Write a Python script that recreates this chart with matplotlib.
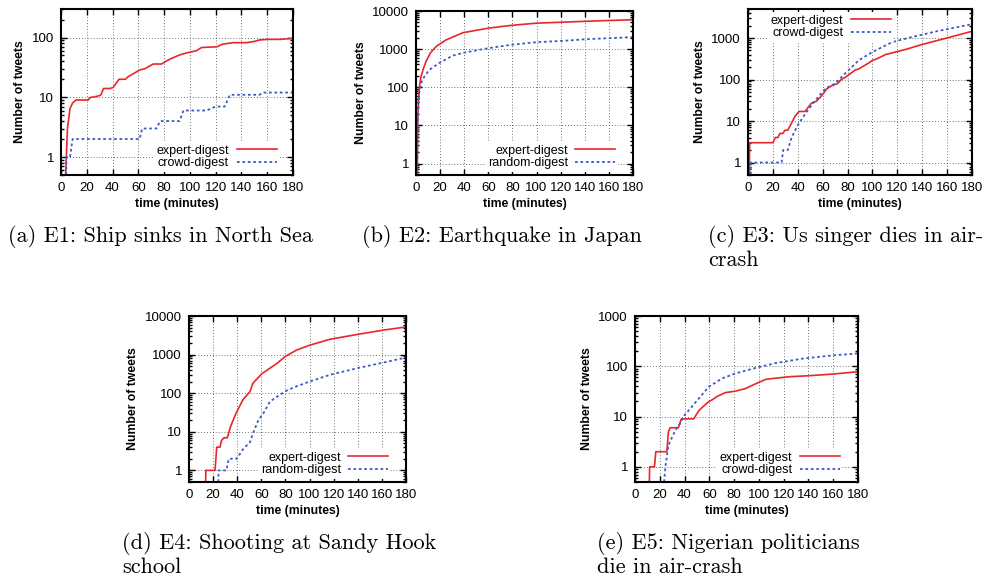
import matplotlib.pyplot as plt
from matplotlib.ticker import FixedLocator, LogLocator, NullFormatter

plt.rcParams['font.family'] = ['Liberation Sans', 'DejaVu Sans']
plt.rcParams['font.size'] = 8

RED = '#e8262b'
BLUE = '#3d5bc0'

# (a) E1
a_t_exp = [3.6, 5, 7, 9, 11.6, 21, 23, 24, 29, 31, 33, 38, 40.5, 45, 50, 52, 55, 61, 65, 71.5, 78, 81, 85, 92,
           97, 105, 109, 121, 125, 133.5, 144, 150, 154, 160, 170, 175, 180]
a_v_exp = [0.5, 3, 6.5, 8, 9, 9, 10, 10, 10.5, 11, 14, 14, 14.6, 20, 20, 22, 24, 28.6, 30, 36, 36, 39.5, 44, 51,
           55, 60, 68, 70, 77, 82, 82, 86, 91, 93, 93, 95, 97]
a_t_crd = [4, 4.2, 7, 9, 61, 63, 74, 77, 92, 95, 113, 120, 127, 131, 154, 157, 180]
a_v_crd = [0.5, 1, 1, 2, 2, 3, 3, 4, 4, 6, 6, 7, 7, 11, 11, 12, 12]

# (b) E2
b_t_exp = [1, 1.4, 2, 2.8, 4, 6, 8.3, 12, 16.7, 25, 39, 60, 79, 100, 122, 150, 180]
b_v_exp = [0.5, 10, 40, 100, 183, 300, 475, 800, 1170, 1750, 2700, 3550, 4200, 4800, 5100, 5500, 5900]
b_t_rnd = [1, 1.4, 2, 2.8, 5, 8.3, 12, 19.4, 30.5, 39, 60, 79, 100, 122, 142, 180]
b_v_rnd = [0.5, 10, 40, 74, 150, 223, 300, 434, 676, 800, 1060, 1300, 1520, 1650, 1830, 2060]

# (c) E3
c_t_exp = [1, 1.3, 20, 22, 24, 25.6, 28, 29.7, 32, 37.8, 41, 46, 47, 51, 55, 59, 63.4, 67, 72, 75, 78, 86, 89,
           97, 100, 103, 110.6, 127, 140, 154, 165, 178, 180]
c_v_exp = [0.5, 3, 3, 4, 4, 5, 5, 6, 6, 13, 17, 17, 19, 27, 30, 40, 60, 70, 80, 100, 112, 168, 180,
           250, 290, 310, 400, 534, 700, 900, 1100, 1400, 1450]
c_t_crd = [2, 2.2, 27, 28.3, 32, 35, 40, 46, 54, 62, 70, 78, 89, 100, 116, 132, 151, 180]
c_v_crd = [0.5, 1, 1, 2, 2, 4, 7.9, 15, 31, 60, 80, 139, 290, 460, 800, 1060, 1440, 2150]

# (d) E4
d_t_exp = [13.8, 14, 21.6, 23, 25.7, 27, 29, 31.8, 34.6, 39, 41, 45, 50.6, 53, 60.3, 72.7, 80, 89, 100, 117, 139,
           161, 180]
d_v_exp = [0.5, 1, 1, 4, 4, 6, 7, 7, 14, 30, 40, 70, 110, 181, 317, 584, 900, 1300, 1745, 2500, 3300, 4300, 5200]
d_t_rnd = [24.3, 24.5, 31, 33, 39.5, 45, 50.6, 53, 57.5, 61.7, 67, 72.7, 81, 89, 100, 117, 139, 161, 180]
d_v_rnd = [0.5, 1, 1, 2, 2, 3.6, 5.4, 9, 20, 30, 60, 80, 117, 150, 200, 300, 440, 620, 840]

# (e) E5
e_t_exp = [11.6, 11.8, 15.7, 16.8, 25.7, 27, 28.4, 35, 37.4, 47.4, 51.4, 54, 59.6, 63, 66, 73, 81, 89, 97.5, 105.6,
           113.7, 124.5, 140.8, 159.7, 180]
e_v_exp = [0.5, 1, 1, 2, 2, 5, 6, 6, 9, 9, 13, 15, 20, 22, 25, 30, 32, 36, 45, 55,
           58, 62, 65, 70, 78]
e_t_crd = [23.5, 24.5, 27, 32.5, 36.5, 39, 46, 52.8, 59.6, 70, 81, 97.5, 113.7, 135, 160, 180]
e_v_crd = [0.5, 1, 2.7, 5.3, 7.3, 10, 15.8, 25, 39, 57, 72, 93, 116, 142, 165, 180]

W, H = 990, 581
fig = plt.figure(figsize=(W / 100, H / 100), dpi=100)


def panel(box, ymax, yticks, series, labels, caption, cap_xy, leg_loc, leg_anchor):
    left, right, top, bottom = box
    ax = fig.add_axes([left / W, 1 - bottom / H, (right - left) / W, (bottom - top) / H])
    (t1, v1), (t2, v2) = series
    ax.plot(t1, v1, color=RED, lw=1.2, label=labels[0])
    ax.plot(t2, v2, color=BLUE, lw=1.3, linestyle=(0, (1.5, 1.5)), label=labels[1])
    ax.set_yscale('log')
    ax.set_xlim(0, 180)
    ax.set_ylim(0.5, ymax)
    ax.set_xticks(range(0, 181, 20))
    ax.yaxis.set_major_locator(FixedLocator(yticks))
    ax.set_yticklabels([str(v) for v in yticks])
    ax.yaxis.set_minor_locator(LogLocator(base=10, subs=range(2, 10)))
    ax.yaxis.set_minor_formatter(NullFormatter())
    ax.tick_params(which='both', direction='in', top=True, right=True, width=1, labelsize=9.5)
    ax.tick_params(which='major', length=4, pad=5)
    ax.tick_params(which='minor', length=2)
    ax.grid(True, which='major', color='#444444', linestyle=(0, (1, 2.5)), lw=0.6)
    for s in ax.spines.values():
        s.set_linewidth(1.5)
    ax.set_xlabel('time (minutes)', fontweight='bold', fontsize=8.8, labelpad=3)
    ax.set_ylabel('Number of tweets', fontweight='bold', fontsize=8.8)
    leg = ax.legend(loc=leg_loc, bbox_to_anchor=leg_anchor, markerfirst=False, fontsize=9,
                    frameon=True, facecolor='white', edgecolor='none', framealpha=1, fancybox=False,
                    borderpad=0.2, labelspacing=0.05, handlelength=3.2, handletextpad=0.6, borderaxespad=0)
    leg.set_zorder(5)
    fig.text(cap_xy[0] / W, 1 - cap_xy[1] / H, caption, family='cmr10', fontsize=16,
             ha='left', va='top', linespacing=1.18)
    return ax


panel((61, 293, 9, 175), 300, [1, 10, 100], [(a_t_exp, a_v_exp), (a_t_crd, a_v_crd)],
      ['expert-digest', 'crowd-digest'], '(a) E1: Ship sinks in North Sea', (8, 225),
      'lower right', (0.94, 0.02))
panel((416, 633, 11, 175), 10000, [1, 10, 100, 1000, 10000], [(b_t_exp, b_v_exp), (b_t_rnd, b_v_rnd)],
      ['expert-digest', 'random-digest'], '(b) E2: Earthquake in Japan', (362, 225),
      'lower right', (0.93, 0.02))
panel((748, 972, 9, 175), 5000, [1, 10, 100, 1000], [(c_t_exp, c_v_exp), (c_t_crd, c_v_crd)],
      ['expert-digest', 'crowd-digest'], '(c) E3: Us singer dies in air-\ncrash', (708, 225),
      'upper right', (0.65, 0.98))
panel((189, 406, 316, 482), 10000, [1, 10, 100, 1000, 10000], [(d_t_exp, d_v_exp), (d_t_rnd, d_v_rnd)],
      ['expert-digest', 'random-digest'], '(d) E4: Shooting at Sandy Hook\nschool', (122, 532),
      'lower right', (0.93, 0.02))
panel((635, 858, 316, 482), 1000, [1, 10, 100, 1000], [(e_t_exp, e_v_exp), (e_t_crd, e_v_crd)],
      ['expert-digest', 'crowd-digest'], '(e) E5: Nigerian politicians\ndie in air-crash', (597, 532),
      'lower right', (0.93, 0.02))

plt.savefig('out.png', dpi=100)
